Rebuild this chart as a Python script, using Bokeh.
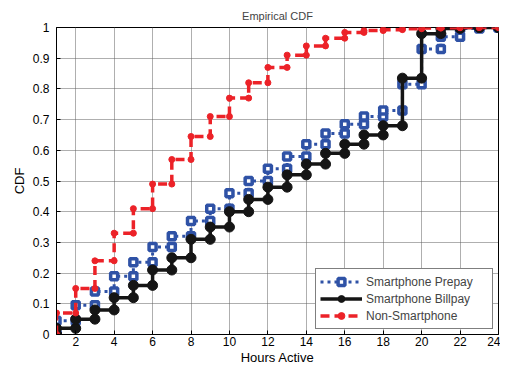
from bokeh.plotting import figure
from bokeh.models import Range1d, FixedTicker, Legend, LegendItem, CustomJSTickFormatter
from bokeh.embed import file_html
from bokeh.resources import INLINE

# ---- data ----
hours = list(range(1, 25))
prepay = [0.045, 0.095, 0.14, 0.19, 0.235, 0.285, 0.32, 0.37, 0.41, 0.46, 0.50, 0.54,
          0.58, 0.62, 0.655, 0.685, 0.71, 0.73, 0.815, 0.93, 0.97, 0.997, 1.0, 1.0]
billpay = [0.02, 0.05, 0.08, 0.12, 0.16, 0.21, 0.25, 0.31, 0.35, 0.40, 0.44, 0.48,
           0.52, 0.555, 0.59, 0.62, 0.65, 0.68, 0.835, 0.98, 0.997, 1.0, 1.0, 1.0]
nonsmart = [0.07, 0.15, 0.24, 0.33, 0.41, 0.49, 0.57, 0.645, 0.71, 0.77, 0.82, 0.87,
            0.91, 0.94, 0.965, 0.984, 0.99, 0.993, 0.996, 0.998, 0.999, 1.0, 1.0, 1.0]
labels = ["Smartphone Prepay", "Smartphone Billpay", "Non-Smartphone"]
x_ticks = [2, 4, 6, 8, 10, 12, 14, 16, 18, 20, 22, 24]
y_ticks = [0, 0.1, 0.2, 0.3, 0.4, 0.5, 0.6, 0.7, 0.8, 0.9, 1.0]


def stairs(x, f):
    """Vertices of a MATLAB-style stairs plot of an ecdf (starting at 0)."""
    xs = [x[0]]
    ys = [0.0]
    for xi, fi in zip(x, f):
        xs.append(xi); ys.append(ys[-1])
        xs.append(xi); ys.append(fi)
    return xs, ys


FONT = "Liberation Sans"
BLUE = "#2f52a6"
BLACK = "#151515"
RED = "#ec2228"

p = figure(width=500, height=367,
           x_range=Range1d(1, 24), y_range=Range1d(0, 1),
           output_backend="svg", toolbar_location=None, title="Empirical CDF")
p.min_border_left = 56
p.min_border_right = 2
p.min_border_top = 27
p.min_border_bottom = 0

p.title.align = "center"
p.title.text_font = FONT
p.title.text_font_size = "11px"
p.title.text_font_style = "normal"
p.title.standoff = 12

p.outline_line_color = "black"
p.outline_line_alpha = 1
p.background_fill_color = "white"
p.border_fill_color = "white"

for ax in (p.xaxis[0], p.yaxis[0]):
    ax.axis_line_color = "black"
    ax.major_tick_in = 4
    ax.major_tick_out = 0
    ax.minor_tick_line_color = None
    ax.major_tick_line_color = "black"
    ax.major_label_text_font = FONT
    ax.major_label_text_font_size = "12px"
    ax.major_label_text_color = "black"
    ax.axis_label_text_font = FONT
    ax.axis_label_text_font_size = "13px"
    ax.axis_label_text_font_style = "normal"
    ax.axis_label_text_color = "black"

p.xaxis[0].major_label_standoff = 2
p.xaxis[0].axis_label_standoff = 1
p.yaxis[0].major_label_standoff = 7
p.yaxis[0].axis_label_standoff = 3

p.xaxis[0].ticker = FixedTicker(ticks=x_ticks)
p.yaxis[0].ticker = FixedTicker(ticks=y_ticks)
p.yaxis[0].formatter = CustomJSTickFormatter(code="return String(Math.round(tick*10)/10);")
p.xaxis[0].axis_label = "Hours Active"
p.yaxis[0].axis_label = "CDF"

p.xgrid.ticker = FixedTicker(ticks=x_ticks)
p.ygrid.ticker = FixedTicker(ticks=y_ticks)
for g in (p.xgrid[0], p.ygrid[0]):
    g.grid_line_color = "#5e5e5e"
    g.grid_line_width = 1
    g.grid_line_dash = "1 1"

# series
bx, by = stairs(hours, prepay)
kx, ky = stairs(hours, billpay)
rx, ry = stairs(hours, nonsmart)

b_line = p.line(bx, by, line_color=BLUE, line_width=3, line_dash="3 4")
b_mark = p.scatter(bx, by, marker="square", size=7, line_color=BLUE, line_width=3.5,
                   fill_color="white")
k_line = p.line(kx, ky, line_color=BLACK, line_width=3.5)
k_mark = p.scatter(kx, ky, marker="circle", size=10, line_color=BLACK, fill_color=BLACK)
r_line = p.line(rx, ry, line_color=RED, line_width=3.5, line_dash="9 5")
r_mark = p.scatter(rx, ry, marker="circle", size=6, line_color=RED, fill_color=RED)

legend = Legend(items=[
    LegendItem(label=labels[0], renderers=[b_line, b_mark]),
    LegendItem(label=labels[1], renderers=[k_line, k_mark]),
    LegendItem(label=labels[2], renderers=[r_line, r_mark]),
], location="bottom_right")
legend.margin = 5
legend.padding = 4
legend.spacing = 0
legend.glyph_width = 42
legend.glyph_height = 17
legend.label_height = 17
legend.label_width = 122
legend.label_standoff = 4
legend.label_text_font = FONT
legend.label_text_font_size = "12px"
legend.border_line_color = "black"
legend.border_line_width = 1
legend.background_fill_color = "white"
legend.background_fill_alpha = 1
p.add_layout(legend, "center")

open("out.html", "w").write(file_html(p, INLINE))
